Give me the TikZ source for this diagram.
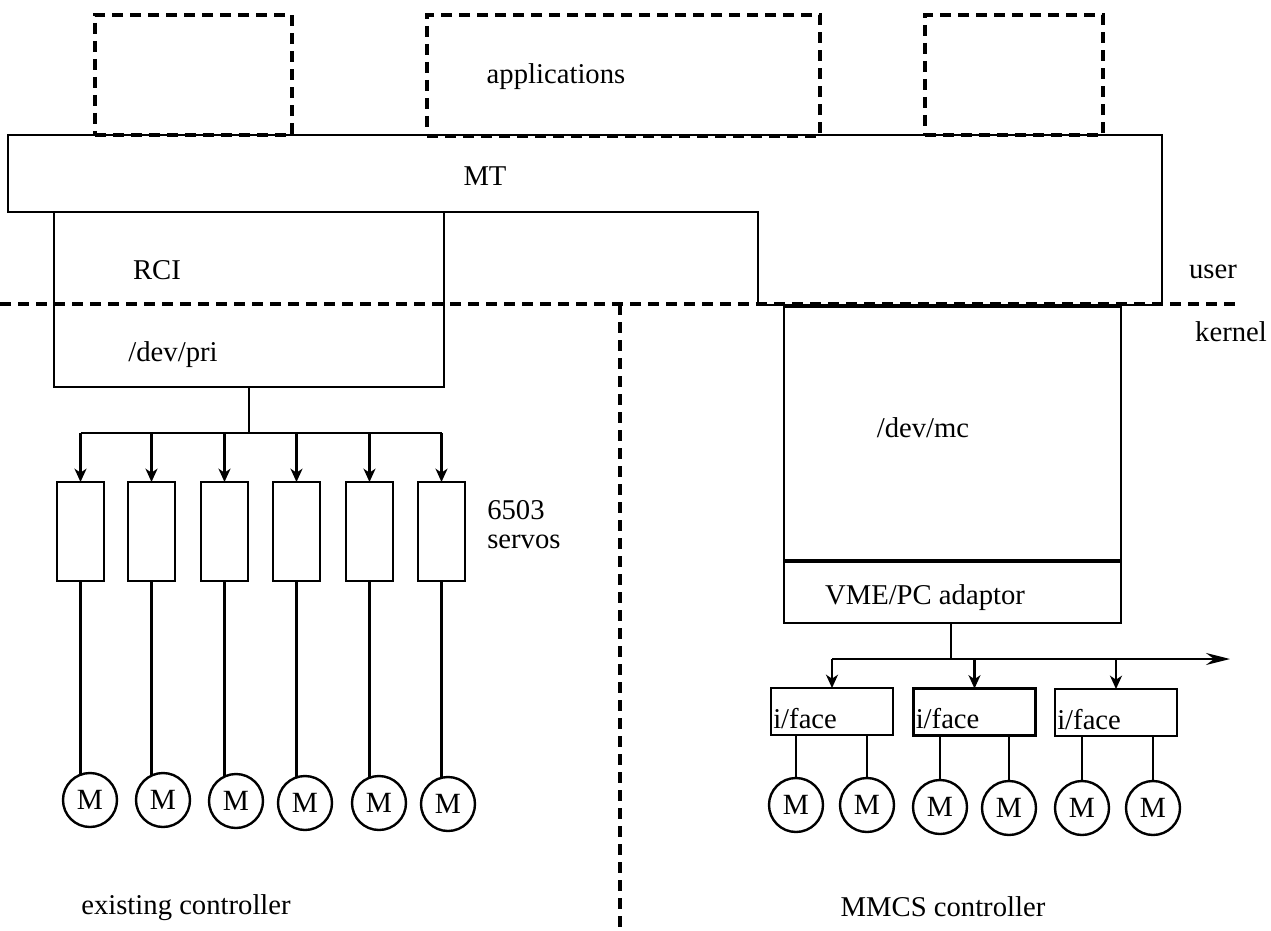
\documentclass[tikz,border=0pt]{standalone}
\usepackage{fontspec}
\setmainfont{Liberation Serif}
\usetikzlibrary{arrows.meta,backgrounds,calc}
\newdimen\pxu \pxu=0.75pt
\begin{document}
\begin{tikzpicture}[x=0.75pt,y=-0.75pt,
  boxst/.style={draw, line width=1.8pt, inner sep=0pt, outer sep=0pt},
  dashst/.style={draw, line width=2.3pt, dash pattern=on 8pt off 5.5pt},
  lbl/.style={font=\fontsize{21.5}{26}\selectfont, inner sep=0pt},
  motor/.style={circle, draw, line width=1.8pt, minimum size=54\pxu, inner sep=0pt, fill=white, font=\fontsize{22}{26}\selectfont},
  servo/.style={boxst, minimum width=47\pxu, minimum height=99\pxu},
  iface/.style={boxst, minimum width=122\pxu, minimum height=47\pxu},
  wire/.style={line width=1.6pt},
  arr/.style={line width=1.6pt, -{Stealth[length=10pt,width=9pt,inset=3pt]}},
  bigarr/.style={line width=1.6pt, -{Stealth[length=18pt,width=9pt,inset=6pt]}}
]
\useasboundingbox (0,0) rectangle (1271,931);

% MT layer (L-shaped)
\draw[line width=1.8pt] (8,135) -- (1162,135) -- (1162,305) -- (758,305) -- (758,212) -- (8,212) -- cycle;
\node[lbl] (mt) at (485,176) {MT};

% applications (dashed)
\node[dashst, minimum width=197\pxu, minimum height=120\pxu, inner sep=0pt] (app1) at (193.5,75) {};
\node[dashst, minimum width=393\pxu, minimum height=121\pxu, inner sep=0pt] (app2) at (623.5,75.5) {};
\node[dashst, minimum width=178\pxu, minimum height=120\pxu, inner sep=0pt] (app3) at (1014,75) {};
\node[lbl] (apps) at (556,77) {applications};

% user / kernel boundary
\coordinate (bl) at (0,304);
\coordinate (br) at (1236,304);
\coordinate (vtop) at (620,304);
\coordinate (vbot) at (620,931);
\draw[dashst] (bl) -- (br);
\draw[dashst] (vtop) -- (vbot);
\node[lbl] (user) at (1213,272) {user};
\node[lbl] (kernel) at (1231,332) {kernel};

% existing controller side
\node[boxst, minimum width=390\pxu, minimum height=175\pxu] (rci) at (249,299.5) {};
\node[lbl] (rcit) at (157,270) {RCI};
\node[lbl] (devpri) at (173,355) {/dev/pri};

\node[servo] (s1) at (80.5,531.5) {};
\node[servo] (s2) at (151.5,531.5) {};
\node[servo] (s3) at (224.5,531.5) {};
\node[servo] (s4) at (296.5,531.5) {};
\node[servo] (s5) at (369.5,531.5) {};
\node[servo] (s6) at (441.5,531.5) {};
\node[lbl, anchor=west] (n6503) at (487,510) {6503};
\node[lbl, anchor=west] (nservos) at (487,542) {servos};

\coordinate (lbus) at (249,433);
\draw[wire] (rci.south) -- (rci.south |- lbus);
\draw[wire] (s1.north |- lbus) -- (s6.north |- lbus);
\foreach \s in {s1,s2,s3,s4,s5,s6}
  \draw[arr] (\s.north |- lbus) -- (\s.north);

\node[motor] (m1) at (90,800) {M};
\node[motor] (m2) at (163,800) {M};
\node[motor] (m3) at (236,801) {M};
\node[motor] (m4) at (305,803) {M};
\node[motor] (m5) at (379,803) {M};
\node[motor] (m6) at (448,804) {M};
\begin{scope}[on background layer]
\foreach \i in {1,...,6}
  \draw[wire] (s\i.south) -- (s\i.south |- m\i.center);
\end{scope}

\node[lbl] (exist) at (186,908) {existing controller};

% MMCS side
\node[boxst, minimum width=337\pxu, minimum height=253\pxu] (devmc) at (952.5,433.5) {};
\node[lbl] (devmct) at (923,428) {/dev/mc};
\node[boxst, minimum width=337\pxu, minimum height=61\pxu] (vme) at (952.5,592.5) {};
\node[lbl] (vmet) at (925,598) {VME/PC adaptor};

\node[iface] (if1) at (832,711.5) {};
\node[iface] (if2) at (974.5,712) {};
\node[iface] (if3) at (1116,712.5) {};
\foreach \i in {1,2,3}
  \node[lbl, anchor=west] (ift\i) at ($(if\i.west)+(2,7)$) {i/face};

\coordinate (vtap) at (951,0);
\coordinate (rbusL) at (if1.north |- 0,659);
\coordinate (rbusR) at (1230,659);
\draw[wire] (vme.south -| vtap) -- (vtap |- rbusL);
\draw[bigarr] (rbusL) -- (rbusR);
\foreach \i in {1,2,3}
  \draw[arr] (if\i.north |- rbusL) -- (if\i.north);

\node[motor] (r1) at (796,805) {M};
\node[motor] (r2) at (867,805) {M};
\node[motor] (r3) at (940,807) {M};
\node[motor] (r4) at (1009,808) {M};
\node[motor] (r5) at (1082,808) {M};
\node[motor] (r6) at (1153,808) {M};
\begin{scope}[on background layer]
\draw[wire] (r1 |- if1.south) -- (r1.center);
\draw[wire] (r2 |- if1.south) -- (r2.center);
\draw[wire] (r3 |- if2.south) -- (r3.center);
\draw[wire] (r4 |- if2.south) -- (r4.center);
\draw[wire] (r5 |- if3.south) -- (r5.center);
\draw[wire] (r6 |- if3.south) -- (r6.center);
\end{scope}

\node[lbl] (mmcs) at (943,907) {MMCS controller};
\end{tikzpicture}
\end{document}
